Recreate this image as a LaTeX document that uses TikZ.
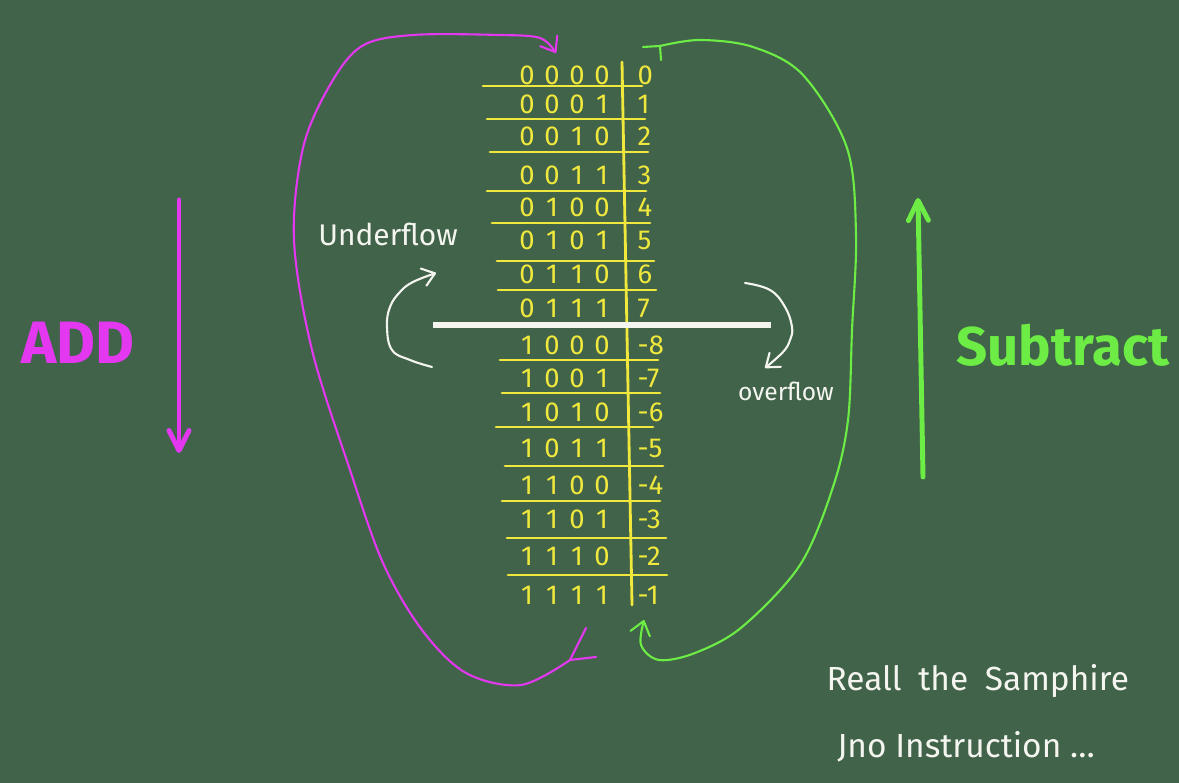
\documentclass[tikz,border=0pt]{standalone}
\usepackage{fontspec}
\setmainfont{Fira Sans}
\usetikzlibrary{arrows.meta}

\definecolor{board}{RGB}{64,99,74}
\definecolor{chalkyellow}{RGB}{240,232,60}
\definecolor{chalkpink}{RGB}{228,56,240}
\definecolor{chalkgreen}{RGB}{108,236,68}
\definecolor{chalkwhite}{RGB}{245,245,240}

\begin{document}
\begin{tikzpicture}[x=0.01cm, y=-0.01cm,
    bit/.style={text=chalkyellow, font=\fontsize{7.8}{9}\selectfont, inner sep=0pt},
    num/.style={bit, anchor=west},
    rule/.style={chalkyellow, line width=0.8pt, line cap=round},
    loopline/.style={line width=0.6pt, line cap=round, line join=round},
    tipend/.style={-{Straight Barb[length=1.3mm, width=2mm, round]}},
    bigarrow/.style={line width=1.4pt, line cap=round, -{Straight Barb[length=2mm, width=2mm, round]}},
    flow/.style={chalkwhite, line width=0.6pt, line cap=round, -{Straight Barb[length=1.2mm, width=1.8mm, round]}},
    note/.style={text=chalkwhite, inner sep=0pt}]

    % Board
    \fill[board] (0,0) rectangle (1179,783);
    \useasboundingbox (0,0) rectangle (1179,783);

    % Table of 4-bit values
    \foreach \a/\b/\c/\d/\val/\y [count=\i] in {0/0/0/0/0/75, 0/0/0/1/1/104, 0/0/1/0/2/136, 0/0/1/1/3/175,
        0/1/0/0/4/207, 0/1/0/1/5/240, 0/1/1/0/6/274, 0/1/1/1/7/308,
        1/0/0/0/-8/345, 1/0/0/1/-7/378, 1/0/1/0/-6/412, 1/0/1/1/-5/448,
        1/1/0/0/-4/485, 1/1/0/1/-3/519, 1/1/1/0/-2/556, 1/1/1/1/-1/595}{
        \foreach \bit [count=\j] in {\a,\b,\c,\d}
            \node[bit] (b\i-\j) at (502+25*\j,\y) {\bit};
        \node[num] (v\i) at (637,\y) {\val};
    }

    % Row rules
    \foreach \y/\xa/\xb in {86/483/642, 119/487/645, 152/490/648, 191/487/646, 223/492/650, 261/497/654, 290/498/656,
        360/500/658, 393/502/660, 427/496/653, 466/505/663, 501/502/660, 538/507/666, 575/508/667}
        \draw[rule] (\xa,\y) -- (\xb,\y);
    \draw[rule] (622,62) -- (632,605);

    % Split between 7 and -8
    \draw[chalkwhite, line width=1.7pt] (433,325) -- (771,325);

    % Underflow / overflow
    \node[note, font=\fontsize{8.5}{10}\selectfont] (under) at (388,234) {Underflow};
    \draw[flow] plot[smooth, tension=0.7] coordinates {(432,367) (410,360) (392,350) (387,327) (390,307) (400,292) (413,282) (436,273)};
    \node[note, font=\fontsize{7}{8}\selectfont] (over) at (786,391) {overflow};
    \draw[flow] plot[smooth, tension=0.7] coordinates {(745,283) (770,290) (785,307) (792,327) (790,340) (783,352) (765,368)};

    % ADD: down, wraps from -1 back to 0
    \node[text=chalkpink, font=\bfseries\fontsize{17}{20}\selectfont] (add) at (78,343) {ADD};
    \coordinate (addtop) at (179,200);
    \coordinate (addend) at (179,453);
    \draw[bigarrow, chalkpink] (addtop) -- (addend);
    \coordinate (addtail) at (570,660);
    \draw[loopline, chalkpink] (addtail) -- ++(16,-32) (addtail) -- ++(26,-3);
    \draw[loopline, chalkpink, tipend] plot[smooth, tension=0.55] coordinates {(addtail) (521,685) (466,673)
        (422,630) (383,563) (349,467) (312,350) (294,240) (303,148) (330,85) (362,46)
        (413,35) (500,35) (540,38) (556,53)};

    % Subtract: up, wraps from 0 back to -1
    \node[text=chalkgreen, font=\bfseries\fontsize{15.5}{19}\selectfont] (sub) at (1063,345) {Subtract};
    \coordinate (subbot) at (923,477);
    \coordinate (subend) at (918,198);
    \draw[bigarrow, chalkgreen] (subbot) -- (subend);
    \coordinate (subtail) at (660,46);
    \draw[loopline, chalkgreen] (subtail) -- ++(-17,1) (subtail) -- ++(1,14);
    \draw[loopline, chalkgreen, tipend] plot[smooth, tension=0.55] coordinates {(subtail) (700,40) (753,47)
        (803,75) (847,148) (856,235) (852,330) (848,420) (833,487) (800,565)
        (742,627) (695,653) (659,660) (641,645) (644,620)};

    % Note
    \node[note, anchor=north west, align=left, font=\fontsize{9.5}{19}\selectfont] (recall) at (826,664)
        {Reall\enspace the\enspace Samphire\\\hspace*{3pt}Jno Instruction \ldots};

\end{tikzpicture}
\end{document}
